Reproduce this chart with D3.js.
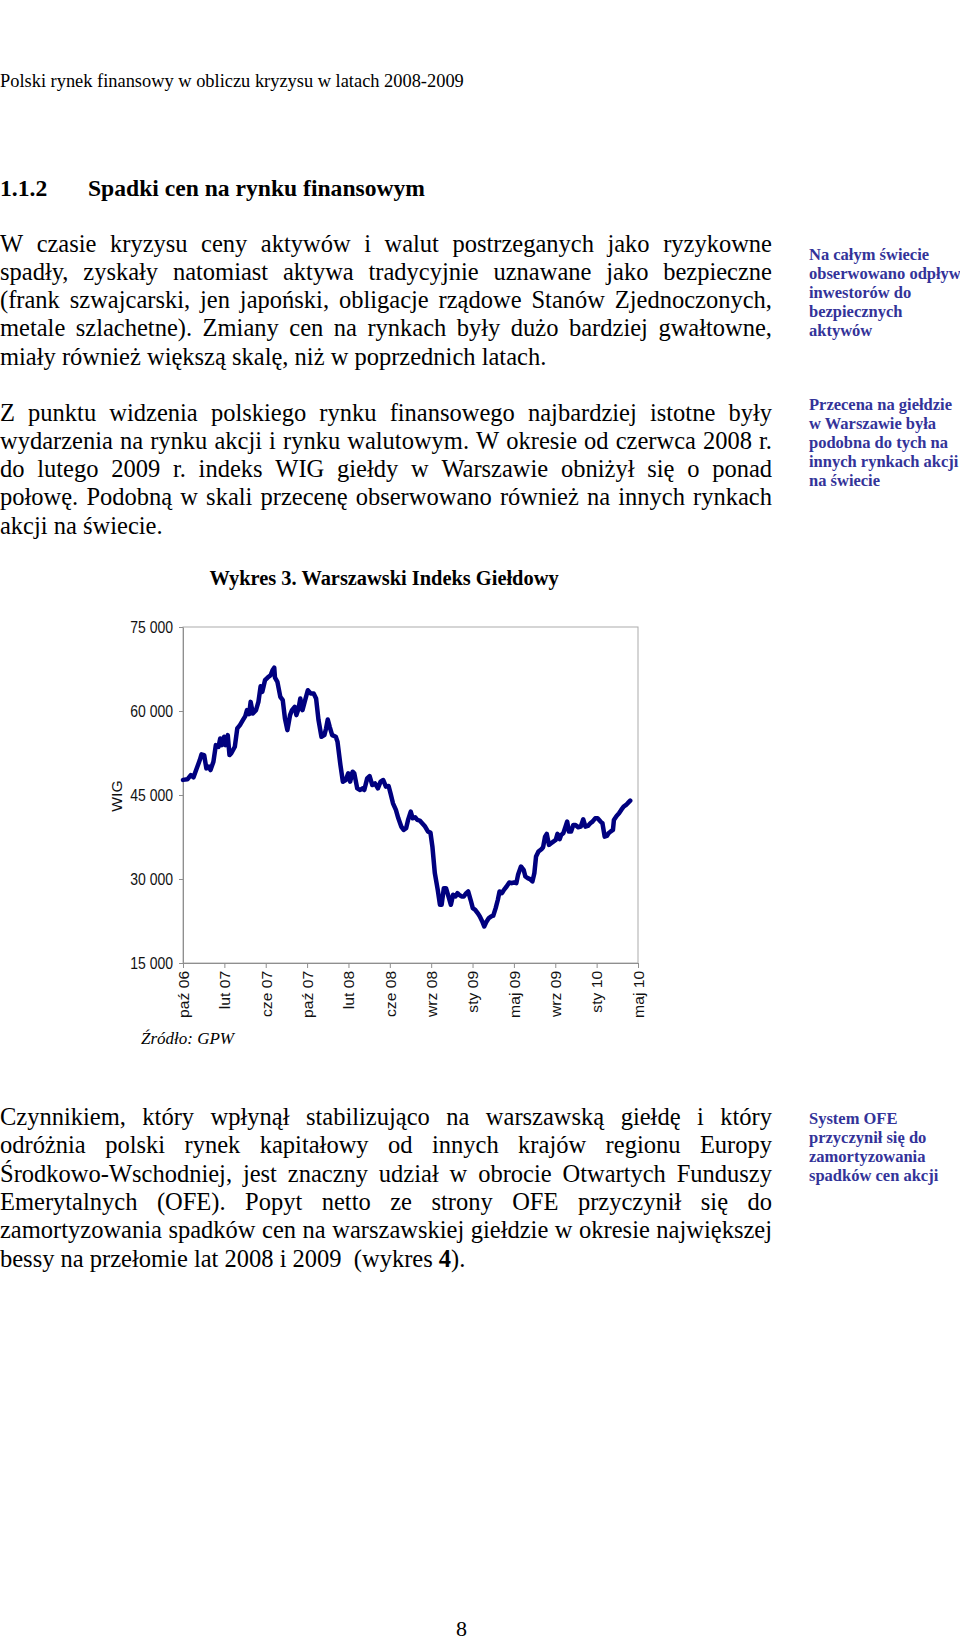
<!DOCTYPE html>
<html><head><meta charset="utf-8">
<script src="https://cdn.jsdelivr.net/npm/d3@7"></script>
<style>
html,body{margin:0;padding:0;background:#fff;}
svg{display:block;}
</style></head><body>
<script>
// ---- chart data (weekly WIG index, week 0 = early Oct 2006) ----
const weeks = [0,1.8,3.2,4.3,5.4,6.9,7.6,8.7,9.6,10.6,11.3,12.5,13.5,14.6,15.3,16.0,16.9,17.5,18.4,19.1,19.8,21.3,22.3,23.4,24.6,25.6,26.3,27.2,27.8,28.7,30.0,31.0,31.9,32.6,33.7,34.8,36.0,36.8,37.5,37.8,38.8,40.0,41.0,41.9,42.9,44.0,44.8,45.9,46.6,47.5,48.2,49.1,50.0,51.3,52.5,53.7,54.7,55.7,56.9,58.1,58.8,59.5,60.3,61.3,62.8,63.5,64.7,65.7,66.9,67.9,68.7,69.7,70.4,71.6,72.8,73.8,74.5,75.7,76.7,77.8,78.9,80.1,81.2,82.3,83.4,84.5,85.3,86.3,87.5,88.5,89.7,90.7,91.7,92.5,93.6,94.4,95.4,96.3,97.3,98.3,99.5,100.7,101.7,102.5,103.5,104.7,105.6,106.3,107.2,108.1,109.1,110.1,111.0,112.0,112.8,113.5,114.5,115.4,116.4,117.2,118.2,119.1,120.1,121.1,122.0,123.0,123.8,124.8,125.7,126.7,127.5,128.5,129.4,130.1,131.1,131.9,133.0,134.1,135.1,136.0,137.0,137.7,138.9,140.0,140.7,141.7,142.6,143.6,144.4,145.1,146.1,147.3,148.0,148.8,149.5,150.4,151.3,152.2,153.2,153.9,154.8,155.4,156.3,157.2,157.9,158.6,159.5,160.4,161.3,162.4,163.5,164.5,165.4,166.4,167.4,168.3,169.4,170.4,171.6,172.4,173.3,174.2,174.9,175.7,176.7,177.1,178.2,179.2,180.1,181.1,182.1,183.0,183.8];
const wig = [47700,47800,48560,48150,49450,51240,52250,52130,49750,50050,49450,50940,53910,53610,55100,53910,55400,53910,55690,52130,52430,53610,56880,57480,58370,59080,60150,59440,61630,59550,60150,61630,64430,63420,65500,65970,66390,67280,67750,65970,65200,62520,61930,58660,56580,59260,60150,60740,59260,60450,62230,60150,61630,63710,63120,63120,62230,58370,55400,55690,56880,58490,57180,55690,55400,54500,50350,47380,47670,48860,47380,49160,48860,46190,45890,46190,45890,47970,48390,46780,47080,46190,47380,47670,46490,46600,45300,43520,42330,40840,39360,38760,39060,40550,42030,40840,41020,40550,40430,39950,39360,38460,38290,35790,31040,28070,25400,25400,28370,28370,26880,25400,27180,26880,27480,27180,26880,26880,27480,27770,26290,24800,24500,23910,23320,22430,21530,22430,23020,23320,23440,24800,26290,27770,27480,28070,28660,29380,29260,29380,29260,30740,32230,31640,30450,30150,29970,29560,31040,34010,34900,35320,35680,37570,38050,36090,36390,36680,36980,38050,37100,37870,38170,39360,40250,38460,38460,39650,39650,39240,39360,40660,39360,39480,39950,40250,40840,40840,40250,39950,37570,37690,38170,38460,38760,40550,41260,41730,42330,42920,43220,43630,43990];
const xTickLabels = ["paź 06","lut 07","cze 07","paź 07","lut 08","cze 08","wrz 08","sty 09","maj 09","wrz 09","sty 10","maj 10"];
const xTickWeeks = [0,17,34,51,68,85,102,119,136,153,170,187];
const yTicks = [15000,30000,45000,60000,75000];

// ---- page text ----
const pageHeader = "Polski rynek finansowy w obliczu kryzysu w latach 2008-2009";
const sectionNo = "1.1.2";
const sectionTitle = "Spadki cen na rynku finansowym";
const para1 = [
 "W czasie kryzysu ceny aktywów i walut postrzeganych jako ryzykowne",
 "spadły, zyskały natomiast aktywa tradycyjnie uznawane jako bezpieczne",
 "(frank szwajcarski, jen japoński, obligacje rządowe Stanów Zjednoczonych,",
 "metale szlachetne). Zmiany cen na rynkach były dużo bardziej gwałtowne,",
 "miały również większą skalę, niż w poprzednich latach."];
const para2 = [
 "Z punktu widzenia polskiego rynku finansowego najbardziej istotne były",
 "wydarzenia na rynku akcji i rynku walutowym. W okresie od czerwca 2008 r.",
 "do lutego 2009 r. indeks WIG giełdy w Warszawie obniżył się o ponad",
 "połowę. Podobną w skali przecenę obserwowano również na innych rynkach",
 "akcji na świecie."];
const para3 = [
 "Czynnikiem, który wpłynął stabilizująco na warszawską giełdę i który",
 "odróżnia polski rynek kapitałowy od innych krajów regionu Europy",
 "Środkowo-Wschodniej, jest znaczny udział w obrocie Otwartych Funduszy",
 "Emerytalnych (OFE). Popyt netto ze strony OFE przyczynił się do",
 "zamortyzowania spadków cen na warszawskiej giełdzie w okresie największej"];
const para3Last = ["bessy na przełomie lat 2008 i 2009  (wykres ", "4", ")."];
const note1 = ["Na całym świecie","obserwowano odpływ","inwestorów do","bezpiecznych","aktywów"];
const note2 = ["Przecena na giełdzie","w Warszawie była","podobna do tych na","innych rynkach akcji","na świecie"];
const note3 = ["System OFE","przyczynił się do","zamortyzowania","spadków cen akcji"];
const chartTitle = "Wykres 3. Warszawski Indeks Giełdowy";
const yAxisTitle = "WIG";
const sourceText = "Źródło: GPW";
const pageNumber = "8";

const SERIF = "'Liberation Serif','Times New Roman',serif";
const SANS = "'Liberation Sans',Arial,sans-serif";

const svg = d3.select("body").append("svg").attr("width",960).attr("height",1641);

// measuring helper
const meas = svg.append("text").attr("visibility","hidden");
function wordWidth(w, size, weight){
  meas.attr("font-family",SERIF).attr("font-size",size).attr("font-weight",weight||"normal").text(w);
  return meas.node().getComputedTextLength();
}
function justifiedLine(str, x, y, width, size){
  const words = str.split(" ");
  const ws = words.map(w => wordWidth(w,size));
  const total = d3.sum(ws);
  const gap = (width - total)/(words.length-1);
  const t = svg.append("text").attr("y",y).attr("font-family",SERIF).attr("font-size",size).attr("fill","#000");
  let cx = x;
  words.forEach((w,i)=>{ t.append("tspan").attr("x",cx).text(w); cx += ws[i]+gap; });
}
function plainLine(str, x, y, size, opts){
  opts = opts||{};
  return svg.append("text").attr("x",x).attr("y",y).attr("font-family",SERIF).attr("font-size",size)
    .attr("font-weight",opts.weight||"normal").attr("font-style",opts.style||"normal")
    .attr("fill",opts.fill||"#000").style("white-space","pre").text(str);
}

const BODY = 24.5, LH = 28.3, TEXTW = 772;
plainLine(pageHeader, 0, 87, 18.4);
plainLine(sectionNo, 0, 196, 23.6, {weight:"bold"});
plainLine(sectionTitle, 88, 196, 23.6, {weight:"bold"});

function paragraph(lines, y0, lastJustified){
  lines.forEach((l,i)=>{
    const y = y0 + i*LH;
    if (i < lines.length-1 || lastJustified) justifiedLine(l, 0, y, TEXTW, BODY);
    else plainLine(l, 0, y, BODY);
  });
}
paragraph(para1, 251.5, false);
paragraph(para2, 420.5, false);
paragraph(para3, 1125, true);
const last = svg.append("text").attr("x",0).attr("y",1125+5*LH).attr("font-family",SERIF).attr("font-size",BODY).style("white-space","pre");
last.append("tspan").text(para3Last[0]);
last.append("tspan").attr("font-weight","bold").text(para3Last[1]);
last.append("tspan").text(para3Last[2]);

function note(lines, y0){
  lines.forEach((l,i)=> plainLine(l, 809, y0 + i*19, 16.5, {weight:"bold", fill:"#333399"}));
}
note(note1, 259.5);
note(note2, 409.5);
note(note3, 1123.5);

plainLine(pageNumber, 456, 1636, 22);

// ---- chart ----
const L = 183, R = 638, T = 627, B = 963;
const VS = 1.12; // chart image is slightly stretched vertically
const x = d3.scaleLinear().domain([0,187]).range([L,R]);
const y = d3.scaleLinear().domain([15000,75000]).range([B,T]);
const fmt = d3.formatLocale({decimal:",", thousands:" ", grouping:[3], currency:["",""]}).format(",d");

svg.append("text").attr("x",384).attr("y",584.5).attr("text-anchor","middle")
  .attr("font-family",SERIF).attr("font-size",20.4).attr("font-weight","bold").text(chartTitle);

// plot frame (top and right borders)
svg.append("rect").attr("x",L).attr("y",T).attr("width",R-L).attr("height",B-T)
  .attr("fill","none").attr("stroke","#ababab").attr("stroke-width",1);

const yAxis = svg.append("g").attr("transform",`translate(${L},0)`)
  .call(d3.axisLeft(y).tickValues(yTicks).tickFormat(fmt).tickSize(4).tickSizeOuter(0).tickPadding(6));
yAxis.select(".domain").attr("stroke","#8f8f8f");
yAxis.selectAll(".tick line").attr("stroke","#8f8f8f");
yAxis.selectAll("text").attr("font-family",SANS).attr("font-size",14).attr("fill","#111")
  .attr("dy",null).attr("dominant-baseline","central").attr("transform",`scale(1,${VS})`)
  .attr("y",0);

const xAxis = svg.append("g").attr("transform",`translate(0,${B})`)
  .call(d3.axisBottom(x).tickValues(xTickWeeks).tickFormat((d,i)=>xTickLabels[i]).tickSize(5).tickSizeOuter(0));
xAxis.select(".domain").attr("stroke","#8f8f8f");
xAxis.selectAll(".tick line").attr("stroke","#8f8f8f");
xAxis.selectAll("text").attr("font-family",SANS).attr("font-size",14).attr("fill","#111")
  .attr("transform",`rotate(-90) scale(${VS},1)`).attr("text-anchor","end").attr("x",-7).attr("y",0).attr("dy","0.38em");

svg.append("text").attr("transform",`translate(117,796) rotate(-90) scale(${VS},1)`).attr("text-anchor","middle")
  .attr("dy","0.35em").attr("font-family",SANS).attr("font-size",14).attr("fill","#111").text(yAxisTitle);

const pts = weeks.map((w,i)=>[w, wig[i]]);
svg.append("path").datum(pts)
  .attr("fill","none").attr("stroke","#00007f").attr("stroke-width",4.5).attr("stroke-linejoin","round").attr("stroke-linecap","round")
  .attr("d", d3.line().x(d=>x(d[0])).y(d=>y(d[1])));

plainLine(sourceText, 141, 1044, 17, {style:"italic"});

meas.remove();
</script>
</body></html>
